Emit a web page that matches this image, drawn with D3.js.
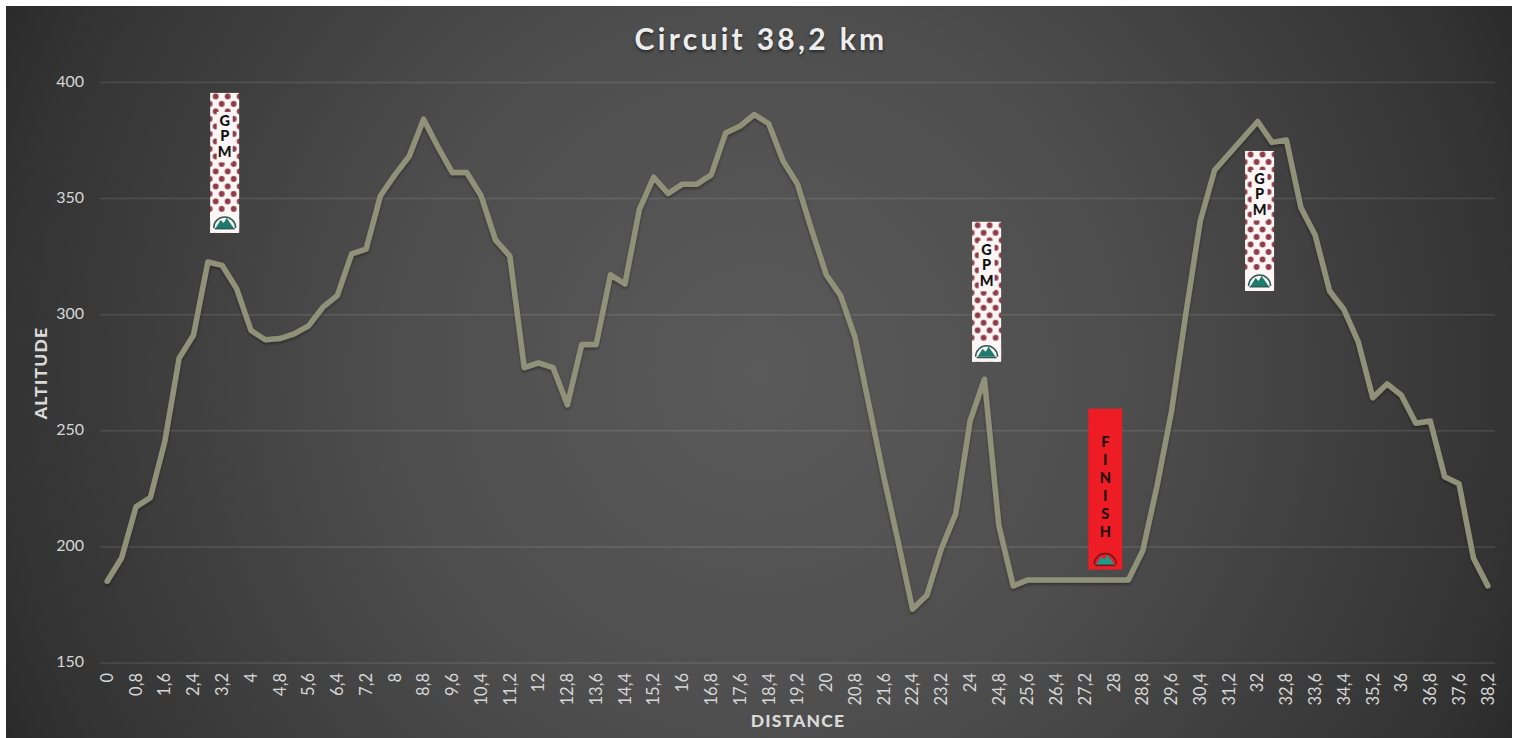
<!DOCTYPE html>
<html>
<head>
    <title>Circuit 38,2 km</title>
    <script src="https://d3js.org/d3.v7.min.js"></script>
    <style>
        html, body { margin: 0; padding: 0; background: #fff; }
        svg { display: block; }
        text { font-family: Lato, "Open Sans", sans-serif; }
        .tick text { fill: #d6d6d6; }
        .grid line { stroke: #fff; stroke-opacity: 0.11; }
        .grid path, .x-axis path { display: none; }
        .x-axis line { display: none; }
    </style>
</head>
<body>
    <script>
        // Altitude, one value per 0.4 km (the last step is shorter)
        const distances = ["0","0,4","0,8","1,2","1,6","2","2,4","2,8","3,2","3,6","4","4,4","4,8","5,2","5,6","6","6,4","6,8","7,2","7,6",
            "8","8,4","8,8","9,2","9,6","10","10,4","10,8","11,2","11,6","12","12,4","12,8","13,2","13,6","14","14,4","14,8","15,2","15,6",
            "16","16,4","16,8","17,2","17,6","18","18,4","18,8","19,2","19,6","20","20,4","20,8","21,2","21,6","22","22,4","22,8","23,2","23,6",
            "24","24,4","24,8","25,2","25,6","26","26,4","26,8","27,2","27,6","28","28,4","28,8","29,2","29,6","30","30,4","30,8","31,2","31,6",
            "32","32,4","32,8","33,2","33,6","34","34,4","34,8","35,2","35,6","36","36,4","36,8","37,2","37,6","38","38,2"];
        const altitudes = [185,195,217,221,245,281,291,322.5,321,311,293,289,289.5,291.5,295,303,308,326,328,351,
            360,368,384,372,361,361,351,332,325,277,279,277,261,287,287,317,313,345,359,352,
            356,356,360,378,381,386,382,366,356,336,317,308,290,260,230,202,173,179,199,214,
            254,272,209,183,185.5,185.5,185.5,185.5,185.5,185.5,185.5,185.5,198,226,258,300,340,362,369,376,
            383,374,375,346,334,310,302,288,264,270,265,253,254,230,227,195,183];
        const yTicks = [150, 200, 250, 300, 350, 400];

        // Banners on the profile: index along the distance axis, altitude of top and bottom
        const flagLabels = ["GPM", "GPM", "GPM", "FINISH"];
        const flagIndex = [8.17, 61.15, 80.13, 69.4];
        const flagTop = [395.3, 339.8, 370.3, 259.3];
        const flagBottom = [335, 279.5, 310, 190];

        const svgWidth = 1518;
        const svgHeight = 738;
        const margin = { top: 82, right: 23, bottom: 75, left: 100 };
        const width = svgWidth - margin.left - margin.right;
        const height = svgHeight - margin.top - margin.bottom;

        const svg = d3.select("body").append("svg")
            .attr("width", svgWidth)
            .attr("height", svgHeight);

        const defs = svg.append("defs");

        // Dark corners, lighter middle
        const bg = defs.append("radialGradient")
            .attr("id", "bg")
            .attr("gradientUnits", "userSpaceOnUse")
            .attr("cx", 759).attr("cy", 372).attr("r", 840);
        bg.append("stop").attr("offset", "0%").attr("stop-color", "#5a5a5a");
        bg.append("stop").attr("offset", "43%").attr("stop-color", "#4e4e4e");
        bg.append("stop").attr("offset", "90%").attr("stop-color", "#333333");
        bg.append("stop").attr("offset", "100%").attr("stop-color", "#2a2a2a");

        // Polka dots for the climb banners
        const dots = defs.append("pattern")
            .attr("id", "dots")
            .attr("patternUnits", "userSpaceOnUse")
            .attr("width", 12).attr("height", 15);
        dots.append("rect").attr("width", 12).attr("height", 15).attr("fill", "#fbf5f5");
        [[3, 3.5], [9, 11]].forEach(c => dots.append("circle")
            .attr("cx", c[0]).attr("cy", c[1]).attr("r", 2.9).attr("fill", "#8f3b48"));

        const softShadow = defs.append("filter").attr("id", "shadow")
            .attr("x", "-10%").attr("y", "-10%").attr("width", "120%").attr("height", "130%");
        softShadow.append("feDropShadow")
            .attr("dx", 0).attr("dy", 2).attr("stdDeviation", 1.5)
            .attr("flood-color", "#000").attr("flood-opacity", 0.35);

        svg.append("rect")
            .attr("x", 6).attr("y", 6)
            .attr("width", 1506).attr("height", 732)
            .attr("fill", "url(#bg)");

        const g = svg.append("g")
            .attr("transform", `translate(${margin.left},${margin.top})`);

        // Define scales
        const x = d3.scaleBand().domain(distances).range([0, width]);
        const y = d3.scaleLinear().domain([150, 400]).range([height - 0.5, 0]);
        const atIndex = d3.scaleLinear()
            .domain([0, distances.length - 1])
            .range([x(distances[0]) + x.bandwidth() / 2, x(distances[distances.length - 1]) + x.bandwidth() / 2]);

        // Gridlines and y labels
        const yAxis = d3.axisLeft(y).tickValues(yTicks).tickSize(-width).tickPadding(16);
        const yG = g.append("g").attr("class", "grid").call(yAxis);
        yG.selectAll("line").attr("stroke-width", 1.5);
        yG.selectAll("text").attr("font-size", 16).attr("dy", "0.25em");

        // X labels: every second point, plus the end of the course
        const xTicks = distances.filter((d, i) => i % 2 === 0);
        const xAxis = d3.axisBottom(x).tickValues(xTicks).tickSize(0).tickPadding(0);
        const xG = g.append("g")
            .attr("class", "x-axis")
            .attr("transform", `translate(0,${height})`)
            .call(xAxis);
        xG.selectAll("text")
            .attr("font-size", 16.5)
            .attr("text-anchor", "end")
            .attr("transform", "rotate(-90)")
            .attr("x", -10)
            .attr("y", 0)
            .attr("dy", "0.35em");

        // Elevation profile
        const line = d3.line()
            .x((d, i) => x(distances[i]) + x.bandwidth() / 2)
            .y(d => y(d));
        g.append("path")
            .datum(altitudes)
            .attr("fill", "none")
            .attr("stroke", "#8f9279")
            .attr("stroke-width", 5.5)
            .attr("stroke-linejoin", "round")
            .attr("stroke-linecap", "round")
            .attr("filter", "url(#shadow)")
            .attr("d", line);

        // Banners
        flagLabels.forEach((label, i) => {
            const isFinish = label === "FINISH";
            const w = isFinish ? 34 : 29;
            const top = y(flagTop[i]);
            const bottom = y(flagBottom[i]);
            const cx = atIndex(flagIndex[i]);
            const flag = g.append("g").attr("transform", `translate(${cx},${top})`);
            const h = bottom - top;

            flag.append("rect")
                .attr("x", -w / 2).attr("width", w).attr("height", h)
                .attr("fill", isFinish ? "#ee1c25" : "url(#dots)");

            const step = isFinish ? 18 : 15.5;
            const firstY = isFinish ? 38 : 33;
            if (!isFinish) {
                flag.append("rect")
                    .attr("x", -8).attr("y", firstY - 14)
                    .attr("width", 16).attr("height", step * label.length + 4)
                    .attr("fill", "#fbf5f5");
                flag.append("rect")
                    .attr("x", -w / 2).attr("y", h - 21)
                    .attr("width", w).attr("height", 21)
                    .attr("fill", "#fbf5f5");
            }
            flag.selectAll("text.letter")
                .data(label.split(""))
                .enter()
                .append("text")
                .attr("class", "letter")
                .attr("text-anchor", "middle")
                .attr("y", (d, j) => firstY + j * step)
                .attr("font-size", 14.5)
                .attr("font-weight", 900)
                .attr("fill", isFinish ? "#1c1010" : "#111")
                .text(d => d);

            // Small mountain badge
            const badge = flag.append("g").attr("transform", `translate(0,${h - 10})`);
            badge.append("path")
                .attr("d", "M-11,5 A11,11 0 0 1 11,5")
                .attr("fill", "none")
                .attr("stroke", isFinish ? "#70151a" : "#2f5a52")
                .attr("stroke-width", 1.5);
            badge.append("path")
                .attr("d", "M-9,5 L-4,-3 L-1,0 L2,-5 L9,5 Z")
                .attr("fill", isFinish ? "#1f9a8a" : "#1e7a6c");
            badge.append("rect")
                .attr("x", -10).attr("y", 5).attr("width", 20).attr("height", 1.5)
                .attr("fill", isFinish ? "#333" : "#2f5a52");
        });

        // Titles
        svg.append("text")
            .attr("x", 761).attr("y", 50)
            .attr("text-anchor", "middle")
            .attr("font-size", 30)
            .attr("font-weight", 700)
            .attr("letter-spacing", 3.3)
            .attr("fill", "#ededed")
            .style("text-shadow", "0 2px 3px rgba(0,0,0,0.5)")
            .text("Circuit 38,2 km");

        svg.append("text")
            .attr("x", 798).attr("y", 727)
            .attr("text-anchor", "middle")
            .attr("font-size", 17.5)
            .attr("font-weight", 900)
            .attr("letter-spacing", 1.2)
            .attr("fill", "#d9d9d9")
            .text("DISTANCE");

        svg.append("text")
            .attr("transform", "translate(47,373) rotate(-90)")
            .attr("text-anchor", "middle")
            .attr("font-size", 17.5)
            .attr("font-weight", 900)
            .attr("letter-spacing", 1.2)
            .attr("fill", "#d9d9d9")
            .text("ALTITUDE");
    </script>
</body>
</html>
